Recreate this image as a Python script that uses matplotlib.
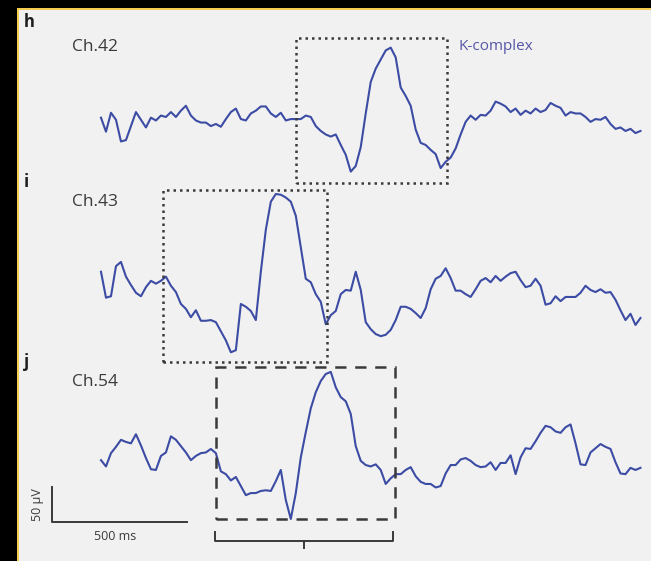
import numpy as np
import matplotlib
matplotlib.use("Agg")
import matplotlib.pyplot as plt
from matplotlib.patches import Rectangle

plt.rcParams['font.family'] = ['Open Sans', 'DejaVu Sans']

# EEG traces, in microvolts, one sample every 18.5 ms
DT_MS = 18.5
channels = ["Ch.42", "Ch.43", "Ch.54"]
panel_letters = ["h", "i", "j"]

ch42 = [3, -17, 10, 0, -31, -29, -9, 11, 0, -11, 3, -1, 6, 4, 11, 4, 13, 20, 6, -1,
        -4, -4, -9, -6, -10, 1, 11, 16, 1, -1, 9, 13, 19, 19, 9, 4, 10, -1, 1, 1,
        1, 6, 4, -9, -16, -21, -24, -21, -36, -50, -74, -66, -39, 9, 54, 73, 86, 99, 103, 89,
        46, 34, 20, -14, -33, -36, -43, -49, -69, -60, -54, -41, -21, -3, 6, 0, 7, 6, 13, 26,
        23, 19, 11, 16, 7, 13, 9, 16, 11, 14, 24, 20, 17, 6, 11, 9, 9, 4, -3, 1,
        0, 4, -6, -13, -11, -16, -13, -19, -16]

ch43 = [26, -11, -9, 34, 40, 19, 7, -4, -9, 4, 13, 9, 13, 19, 6, -3, -20, -27, -39, -29,
        -44, -44, -43, -46, -59, -72, -89, -86, -20, -24, -30, -43, 26, 86, 126, 137, 136, 132, 126, 106,
        61, 16, 11, -6, -17, -49, -36, -30, -6, 0, -1, 26, 0, -46, -56, -63, -66, -64, -57, -43,
        -24, -24, -27, -33, -40, -26, 1, 16, 20, 31, 17, -1, -1, -6, -10, 1, 13, 17, 11, 20,
        13, 19, 24, 26, 14, 4, 6, 16, 6, -21, -19, -9, -16, -10, -10, -10, -4, 6, 0, -3,
        1, -4, -3, -14, -29, -43, -34, -50, -40]

ch54 = [0, -9, 10, 19, 29, 26, 24, 37, 21, 3, -13, -14, 6, 11, 34, 29, 20, 11, 0, 6,
        10, 11, 16, 10, -16, -20, -29, -24, -37, -50, -47, -47, -44, -43, -44, -30, -14, -57, -84, -47,
        4, 40, 74, 97, 113, 123, 126, 104, 90, 84, 66, 20, -1, -7, -9, -6, -14, -34, -26, -20,
        -20, -14, -10, -23, -31, -34, -34, -39, -37, -19, -7, -7, 1, 3, -1, -7, -10, -9, -3, -14,
        -4, -4, 7, -20, 4, 17, 16, 27, 39, 49, 47, 41, 39, 47, 51, 24, -6, -7, 11, 17,
        23, 19, 16, -3, -19, -20, -11, -14, -11]

traces = [ch42, ch43, ch54]
offsets = [-171, -414, -657]          # vertical stacking (µV)

# highlighted windows: start/end (ms) and top/bottom (µV, relative to trace)
box_t0 = [722, 230, 426]
box_t1 = [1281, 837, 1089]
box_top = [117, 143, 133]
box_bot = [-90, -103, -84]
box_styles = [(0, (1, 1.6)), (0, (1, 1.6)), (0, (4.5, 3.5))]

TRACE_COLOR = "#3c4ca4"
INK = "#3a3a3a"

fig = plt.figure(figsize=(6.51, 5.61), dpi=100, facecolor="black")
W, H = 651, 561

# framed light panel
fig.patches.append(Rectangle((19 / W, 0), 1 - 19 / W, 1 - 10 / H, transform=fig.transFigure,
                             facecolor="#f1f1f1", edgecolor="none", zorder=0))
fig.patches.append(Rectangle((16.5 / W, 0), 2 / W, 1 - 8 / H, transform=fig.transFigure,
                             facecolor="#f7cd4f", edgecolor="none", zorder=0))
fig.patches.append(Rectangle((16.5 / W, 1 - 10 / H), 1, 2 / H, transform=fig.transFigure,
                             facecolor="#f7cd4f", edgecolor="none", zorder=0))

ax = fig.add_axes([0, 0, 1, 1])
ax.set_zorder(2)
ax.set_xlim(-374, 2037)
ax.set_ylim(-801, 0)
ax.axis("off")
ax.patch.set_alpha(0)

for i, (vals, off) in enumerate(zip(traces, offsets)):
    v = np.array(vals, dtype=float)
    t = np.arange(len(v)) * DT_MS
    ax.plot(t, v + off, color=TRACE_COLOR, lw=1.5, solid_joinstyle="round")
    rect = Rectangle((box_t0[i], off + box_bot[i]), box_t1[i] - box_t0[i], box_top[i] - box_bot[i],
                     fill=False, edgecolor=INK, lw=1.8, linestyle=box_styles[i], zorder=3)
    ax.add_patch(rect)

# bracket under the last window
bx0, bx1 = box_t0[2] - 4, box_t1[2] - 7
by = -773
ax.plot([bx0, bx0, bx1, bx1], [by + 13, by, by, by + 13], color=INK, lw=1.4)
ax.plot([(bx0 + bx1) / 2] * 2, [by, by - 9], color=INK, lw=1.4)

# scale bar: 500 ms / 50 µV
sx, sy = -181, -746
ax.plot([sx, sx, sx + 500], [sy + 50, sy, sy], color=INK, lw=1.4)


def fx(px):
    return px / W


def fy(py):
    return 1 - py / H


for letter, ly in zip(panel_letters, [22, 182, 362]):
    fig.text(fx(24), fy(ly), letter, fontsize=12, fontweight="bold",
             color="#1e1e1e", ha="left", va="center")
for name, ly in zip(channels, [47, 202, 382]):
    fig.text(fx(72), fy(ly), name, fontsize=12.5, color=INK, ha="left", va="center")

fig.text(fx(459), fy(47), "K-complex", fontsize=11, color="#5656a8", ha="left", va="center")
fig.text(fx(38), fy(505), "50 µV", fontsize=9, color=INK, rotation=90, ha="center", va="center")
fig.text(fx(115), fy(537), "500 ms", fontsize=9, color=INK, ha="center", va="center")

fig.savefig("out.png", dpi=100, facecolor=fig.get_facecolor())
